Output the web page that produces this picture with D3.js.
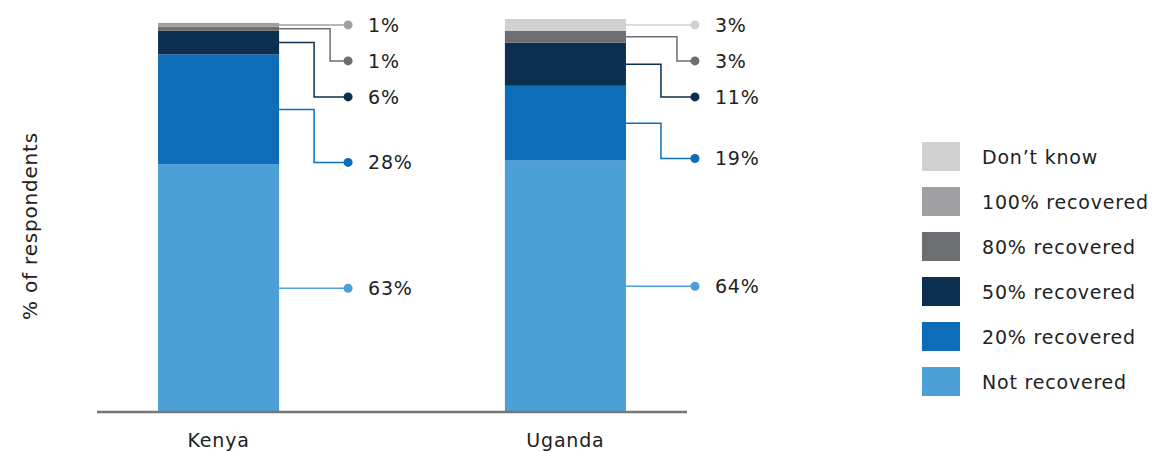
<!DOCTYPE html>
<html>
<head>
<meta charset="utf-8">
<script src="https://cdn.jsdelivr.net/npm/d3@7"></script>
<style>
  body { margin: 0; background: #fff; }
  text { font-family: "DejaVu Sans", "Noto Sans", sans-serif; fill: #222; letter-spacing: 0.8px; }
</style>
</head>
<body>
<div id="chart"></div>
<script>
// data
const countries = ['Kenya', 'Uganda']
const seriesNames = ['Not recovered', '20% recovered', '50% recovered', '80% recovered', '100% recovered', 'Don\u2019t know']
const notRecovered = [63, 64]
const recovered20 = [28, 19]
const recovered50 = [6, 11]
const recovered80 = [1, 3]
const recovered100 = [1, 0]
const dontKnow = [0, 3]
const seriesColors = ['#4c9fd7', '#0e6db8', '#0c2e4f', '#6d6e72', '#a0a0a2', '#d0d0d0']

const seriesValues = [notRecovered, recovered20, recovered50, recovered80, recovered100, dontKnow]

const table = countries.map((c, i) => {
  let row = { country: c }
  seriesNames.forEach((s, j) => { row[s] = seriesValues[j][i] })
  return row
})

const width = 1169, height = 452
const svg = d3.select('#chart').append('svg')
  .attr('width', width)
  .attr('height', height)

const x = d3.scaleBand()
  .domain(countries)
  .range([97, 687])
  .paddingInner(0.651)
  .paddingOuter(0.176)

const y = d3.scaleLinear()
  .domain([0, 100])
  .range([412, 19])

const stack = d3.stack().keys(seriesNames)
const layers = stack(table)

// bars
svg.append('g').selectAll('g')
  .data(layers)
  .enter().append('g')
  .attr('fill', (d, i) => seriesColors[i])
  .selectAll('rect')
  .data(d => d)
  .enter().append('rect')
  .attr('x', d => x(d.data.country))
  .attr('y', d => y(d[1]))
  .attr('width', x.bandwidth())
  .attr('height', d => y(d[0]) - y(d[1]))

// baseline
svg.append('line')
  .attr('x1', 97).attr('x2', 687)
  .attr('y1', y(0)).attr('y2', y(0))
  .attr('stroke', '#777')
  .attr('stroke-width', 2.5)

// category labels
svg.selectAll('.cat')
  .data(countries)
  .enter().append('text')
  .attr('class', 'cat')
  .attr('x', d => x(d) + x.bandwidth() / 2)
  .attr('y', 447)
  .attr('text-anchor', 'middle')
  .style('font-size', '19px')
  .text(d => d)

// y axis title
svg.append('text')
  .attr('transform', 'translate(37, 226) rotate(-90)')
  .attr('text-anchor', 'middle')
  .style('font-size', '20px')
  .text('% of respondents')

// value labels with leader lines
countries.forEach((c, ci) => {
  const right = x(c) + x.bandwidth()
  // segments from top to bottom, non-zero only
  let segs = []
  layers.forEach((layer, li) => {
    const d = layer[ci]
    if (d[1] - d[0] > 0) segs.push({ li: li, y0: y(d[0]), y1: y(d[1]), v: d[1] - d[0] })
  })
  segs.reverse()
  let prev = -Infinity
  segs.forEach((s, k) => {
    const mid = (s.y0 + s.y1) / 2
    let ly
    if (k === 0 || k === segs.length - 1) ly = Math.max(mid, prev + 36)
    else ly = Math.max(s.y0 - 2, prev + 36)
    prev = ly
    const elbow = right + (k === 1 ? 51 : 35)
    const dotX = right + 69
    const col = seriesColors[s.li]
    svg.append('path')
      .attr('d', `M${right},${mid}H${elbow}V${ly}H${dotX}`)
      .attr('fill', 'none')
      .attr('stroke', col)
      .attr('stroke-width', 1.5)
    svg.append('circle')
      .attr('cx', dotX).attr('cy', ly).attr('r', 4.5)
      .attr('fill', col)
    svg.append('text')
      .attr('x', right + 89)
      .attr('y', ly)
      .attr('dy', '0.35em')
      .style('font-size', '19px')
      .text(Math.round(s.v) + '%')
  })
})

// legend
const legendOrder = seriesNames.slice().reverse()
const legend = svg.append('g').selectAll('g')
  .data(legendOrder)
  .enter().append('g')
  .attr('transform', (d, i) => `translate(922, ${142 + i * 45})`)

legend.append('rect')
  .attr('width', 38)
  .attr('height', 29)
  .attr('fill', d => seriesColors[seriesNames.indexOf(d)])

legend.append('text')
  .attr('x', 60)
  .attr('y', 15)
  .attr('dy', '0.35em')
  .style('font-size', '19px')
  .text(d => d)
</script>
</body>
</html>
